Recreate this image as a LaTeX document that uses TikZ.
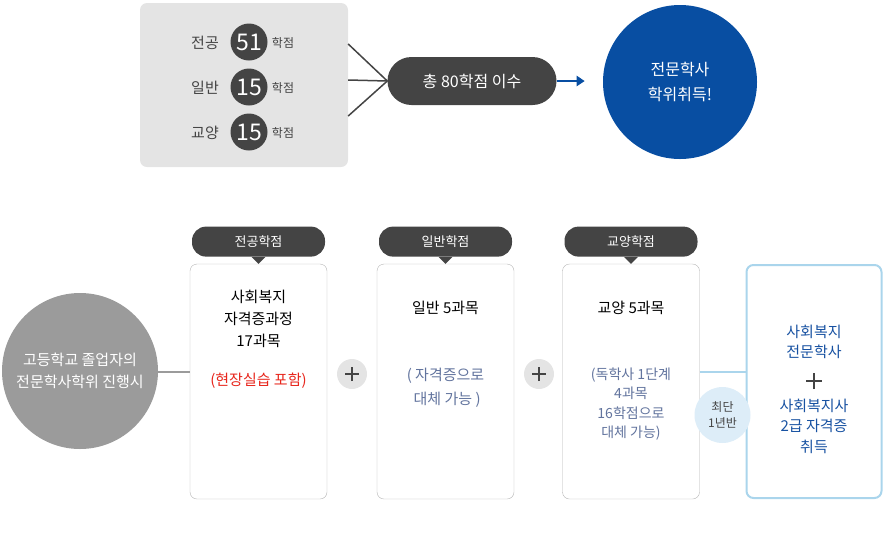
\documentclass[tikz,border=0pt]{standalone}
\usepackage{fontspec}
\setmainfont{Noto Sans CJK KR}
\usetikzlibrary{arrows.meta, positioning}

\definecolor{darkpill}{RGB}{68,68,68}
\definecolor{panelgray}{RGB}{228,228,228}
\definecolor{circgray}{RGB}{155,155,155}
\definecolor{boxline}{RGB}{180,180,180}
\definecolor{deepblue}{RGB}{8,78,162}
\definecolor{textblue}{RGB}{24,82,162}
\definecolor{slateblue}{RGB}{98,116,158}
\definecolor{paleblue}{RGB}{170,213,236}
\definecolor{paleblfill}{RGB}{221,237,248}
\definecolor{accentred}{RGB}{232,38,28}

\newcommand{\fsz}[2]{\fontsize{#1}{#2}\selectfont}

\tikzstyle{panel} = [
  rectangle,
  rounded corners=7pt,
  fill=panelgray,
  minimum width=208pt,
  minimum height=164pt,
  inner sep=0
]
\tikzstyle{rowlabel} = [
  text=darkpill,
  font=\fsz{15}{18},
  inner sep=0
]
\tikzstyle{numdot} = [
  circle,
  fill=darkpill,
  minimum size=37pt,
  inner sep=0,
  text=white,
  font=\fsz{23}{23}
]
\tikzstyle{unit} = [
  text=darkpill,
  font=\fsz{12}{14},
  inner sep=0
]
\tikzstyle{pill} = [
  rectangle,
  rounded corners=24pt,
  fill=darkpill,
  minimum width=169pt,
  minimum height=48pt,
  text=white,
  font=\fsz{16}{18},
  inner sep=0
]
\tikzstyle{goal} = [
  circle,
  fill=deepblue,
  minimum size=154pt,
  text=white,
  align=center,
  font=\fsz{16}{25},
  inner sep=0
]
\tikzstyle{start} = [
  circle,
  fill=circgray,
  minimum size=156pt,
  text=white,
  align=center,
  font=\fsz{15}{22},
  inner sep=0
]
\tikzstyle{course} = [
  rectangle,
  rounded corners=7pt,
  draw=boxline,
  fill=white,
  minimum width=137pt,
  minimum height=235pt,
  inner sep=0
]
\tikzstyle{result} = [
  rectangle,
  rounded corners=7pt,
  draw=paleblue,
  line width=2pt,
  fill=white,
  minimum width=135pt,
  minimum height=233pt,
  inner sep=0
]
\tikzstyle{tag} = [
  rectangle,
  rounded corners=14pt,
  fill=darkpill,
  minimum width=133pt,
  minimum height=30pt,
  text=white,
  font=\fsz{13}{15},
  inner sep=0
]
\tikzstyle{plusdot} = [
  circle,
  fill=panelgray,
  minimum size=30pt,
  inner sep=0
]
\tikzstyle{title} = [
  align=center,
  font=\fsz{15}{22},
  text=black,
  inner sep=0
]
\tikzstyle{note} = [
  align=center,
  font=\fsz{15}{24},
  text=slateblue,
  inner sep=0
]
\tikzstyle{link} = [
  line width=1.5pt,
  draw=darkpill
]

\begin{document}
\begin{tikzpicture}[x=1pt, y=-1pt]
    \useasboundingbox (0,0) rectangle (886,550);

    % top: credits summary
    \node (sum) [panel] at (244,85) {};
    \node (maj) [rowlabel] at (205,43) {전공};
    \node (gen) [rowlabel] at (205,88) {일반};
    \node (lib) [rowlabel] at (205,133) {교양};
    \node (majn) [numdot] at (249,42) {51};
    \node (genn) [numdot] at (249,87) {15};
    \node (libn) [numdot] at (249,132) {15};
    \node (maju) [unit] at (283,43) {학점};
    \node (genu) [unit] at (283,88) {학점};
    \node (libu) [unit] at (283,133) {학점};

    \node (total) [pill] at (472,81) {총 80학점 이수};
    \node (degree) [goal] at (680,82) {전문학사\\학위취득!};

    \draw [link] ([yshift=41pt]sum.east) -- (total.west);
    \draw [link] ([yshift=5pt]sum.east) -- (total.west);
    \draw [link] ([yshift=-31pt]sum.east) -- (total.west);
    \draw [line width=2pt, draw=deepblue, -{Triangle[length=8pt,width=10pt]}] (total.east) -- ([xshift=28pt]total.east);

    % bottom: course path
    \node (grad) [start] at (80,371) {고등학교 졸업자의\\전문학사학위 진행시};

    \node (major) [course] at (258.5,381.5) {};
    \node (general) [course] at (445.5,381.5) {};
    \node (liberal) [course] at (631,381.5) {};
    \node (cert) [result] at (814,381.5) {};

    \node (tmaj) [tag, above=7pt of major] {전공학점};
    \node (tgen) [tag, above=7pt of general] {일반학점};
    \node (tlib) [tag, above=7pt of liberal] {교양학점};
    \foreach \t in {tmaj, tgen, tlib}
      \fill [darkpill] ([xshift=-7pt]\t.south) -- ++(7,7) -- ++(7,-7) -- cycle;

    \node (majtxt) [title] at (258.5,319) {사회복지\\자격증과정\\17과목};
    \node (majnote) [title, text=accentred] at (258.5,381) {(현장실습 포함)};

    \node (gentxt) [title] at (445.5,308) {일반 5과목};
    \node (gennote) [note] at (445.5,388) {( 자격증으로\\\ 대체 가능 )};

    \node (libtxt) [title] at (631,308) {교양 5과목};
    \node (libnote) [note, font=\fsz{14}{19.5}] at (631,404) {(독학사 1단계\\4과목\\16학점으로\\대체 가능)};

    \node (plusa) [plusdot] at (352,374) {};
    \node (plusb) [plusdot] at (539,374) {};
    \foreach \p in {plusa, plusb} {
      \draw [darkpill, line width=1.2pt] ([xshift=-7pt]\p.center) -- ([xshift=7pt]\p.center);
      \draw [darkpill, line width=1.2pt] ([yshift=-7pt]\p.center) -- ([yshift=7pt]\p.center);
    }

    \node (certa) [note, text=textblue, font=\fsz{15}{20}] at (814,342) {사회복지\\전문학사};
    \node (certp) [inner sep=0, minimum size=16pt] at (814,381) {};
    \draw [darkpill, line width=1.2pt] ([xshift=-8pt]certp.center) -- ([xshift=8pt]certp.center);
    \draw [darkpill, line width=1.2pt] ([yshift=-8pt]certp.center) -- ([yshift=8pt]certp.center);
    \node (certb) [note, text=textblue, font=\fsz{15}{20.5}] at (814,426) {사회복지사\\2급 자격증\\취득};

    \coordinate (mid) at (0,372);
    \draw [line width=1.5pt, draw=circgray] (grad.east |- mid) -- (major.west |- mid);
    \draw [line width=2pt, draw=paleblue] (liberal.east |- mid) -- (cert.west |- mid);
    \node (fast) [circle, fill=paleblfill, minimum size=56pt, inner sep=0, align=center, font=\fsz{12}{16}, text=darkpill] at (722.5,415) {최단\\1년반};

\end{tikzpicture}
\end{document}
